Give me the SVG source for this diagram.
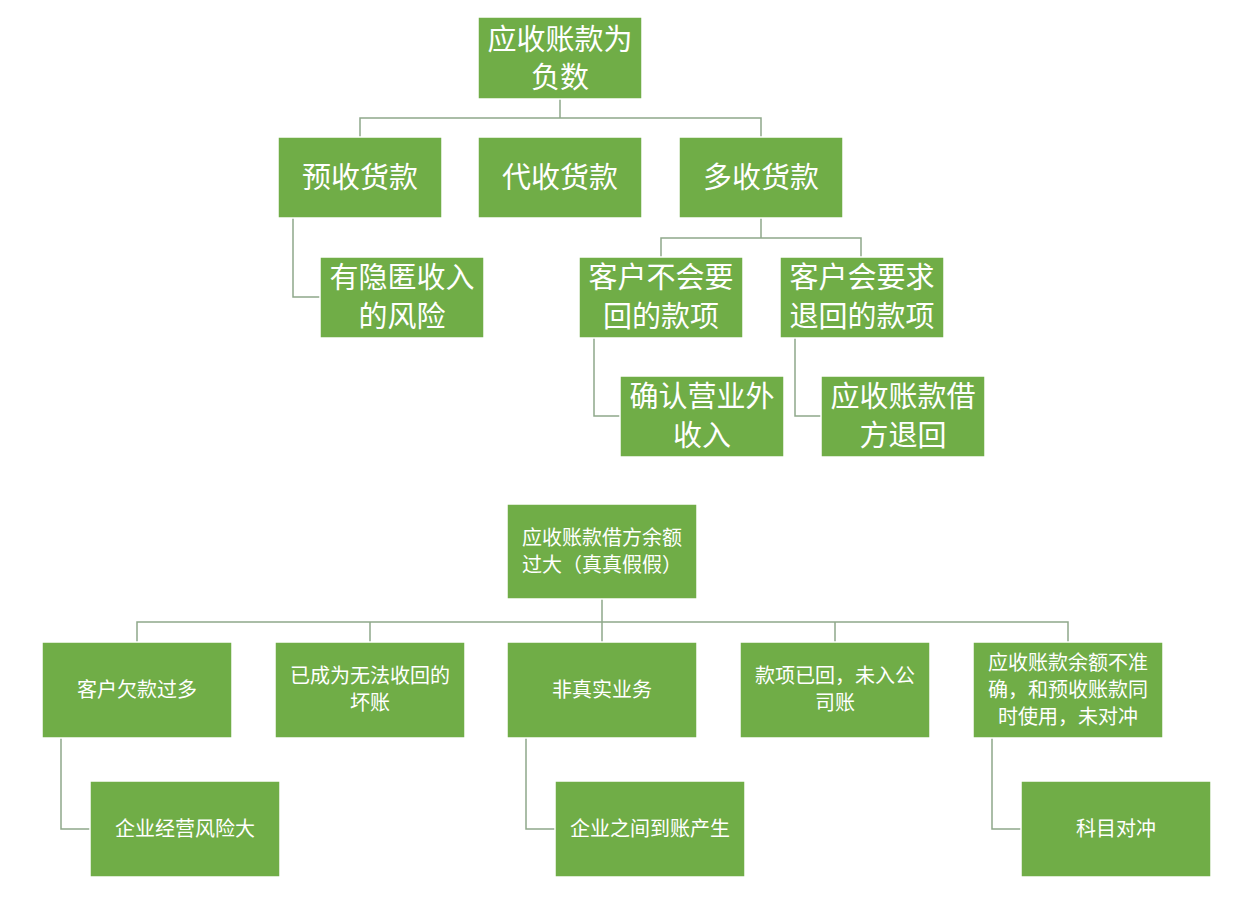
<svg xmlns="http://www.w3.org/2000/svg" width="1259" height="917" viewBox="0 0 1259 917">
<style>
rect{fill:#70ad47;stroke:#ffffff;stroke-width:1.5}
text{fill:#ffffff;font-family:"Noto Sans CJK SC","Noto Sans",sans-serif;text-anchor:middle}
.b{font-size:29px}
.s{font-size:20px}
#connectors path{fill:none;stroke:#8fa88a;stroke-width:1.5}
</style>
<rect x="0" y="0" width="1259" height="917" style="fill:#fff;stroke:none"/>
<g id="connectors">
<path d="M560 99V118M360 137V118H761V137"/>
<path d="M293 218V297H320"/>
<path d="M761 218V238M661 257V238H861V257"/>
<path d="M594 338V416H620"/>
<path d="M795 338V416H821"/>
<path d="M602 599V622M137 642V622H1068V642M370 622V642M602 622V642M835 622V642"/>
<path d="M61 738V829H90"/>
<path d="M526 738V829H555"/>
<path d="M992 738V829H1021"/>
</g>
<g id="n1"><rect x="478" y="17" width="164" height="82"/><text class="b" x="560" y="50">应收账款为</text><text class="b" x="560" y="88">负数</text></g>
<g id="n2"><rect x="278" y="137" width="164" height="81"/><text class="b" x="360" y="188">预收货款</text></g>
<g id="n3"><rect x="478" y="137" width="164" height="81"/><text class="b" x="560" y="188">代收货款</text></g>
<g id="n4"><rect x="679" y="137" width="164" height="81"/><text class="b" x="761" y="188">多收货款</text></g>
<g id="n5"><rect x="320" y="257" width="164" height="81"/><text class="b" x="402" y="288">有隐匿收入</text><text class="b" x="402" y="327">的风险</text></g>
<g id="n6"><rect x="579" y="257" width="164" height="81"/><text class="b" x="661" y="288">客户不会要</text><text class="b" x="661" y="327">回的款项</text></g>
<g id="n7"><rect x="780" y="257" width="164" height="81"/><text class="b" x="862" y="288">客户会要求</text><text class="b" x="862" y="327">退回的款项</text></g>
<g id="n8"><rect x="620" y="376" width="164" height="81"/><text class="b" x="702" y="407">确认营业外</text><text class="b" x="702" y="446">收入</text></g>
<g id="n9"><rect x="821" y="376" width="164" height="81"/><text class="b" x="903" y="407">应收账款借</text><text class="b" x="903" y="446">方退回</text></g>
<g id="m1"><rect x="507" y="504" width="190" height="95"/><text class="s" x="602" y="545">应收账款借方余额</text><text class="s" x="602" y="572">过大（真真假假）</text></g>
<g id="m2"><rect x="42" y="642" width="190" height="96"/><text class="s" x="137" y="697">客户欠款过多</text></g>
<g id="m3"><rect x="275" y="642" width="190" height="96"/><text class="s" x="370" y="683">已成为无法收回的</text><text class="s" x="370" y="710">坏账</text></g>
<g id="m4"><rect x="507" y="642" width="190" height="96"/><text class="s" x="602" y="697">非真实业务</text></g>
<g id="m5"><rect x="740" y="642" width="190" height="96"/><text class="s" x="835" y="683">款项已回，未入公</text><text class="s" x="835" y="710">司账</text></g>
<g id="m6"><rect x="973" y="642" width="190" height="96"/><text class="s" x="1068" y="670">应收账款余额不准</text><text class="s" x="1068" y="697">确，和预收账款同</text><text class="s" x="1068" y="724">时使用，未对冲</text></g>
<g id="m7"><rect x="90" y="781" width="190" height="96"/><text class="s" x="185" y="836">企业经营风险大</text></g>
<g id="m8"><rect x="555" y="781" width="190" height="96"/><text class="s" x="650" y="836">企业之间到账产生</text></g>
<g id="m9"><rect x="1021" y="781" width="190" height="96"/><text class="s" x="1116" y="836">科目对冲</text></g>
</svg>
